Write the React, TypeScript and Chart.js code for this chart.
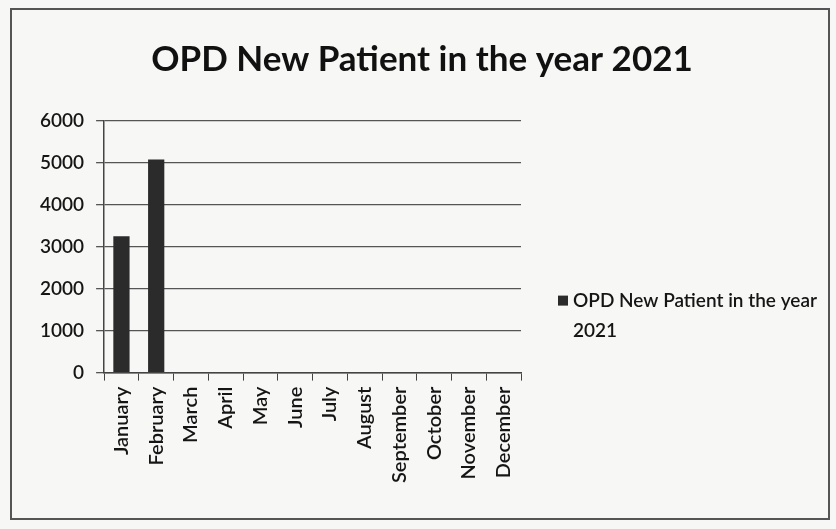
import React, { useEffect, useRef } from "react";
import { Chart, registerables } from "chart.js";

Chart.register(...registerables);

const months = [
  "January", "February", "March", "April", "May", "June",
  "July", "August", "September", "October", "November", "December",
];
const chartTitle = "OPD New Patient in the year 2021";
const seriesName = "OPD New Patient in the year 2021";
const legendLines = ["OPD New Patient in the year", "2021"];
const newPatients: (number | null)[] = [3250, 5080, null, null, null, null, null, null, null, null, null, null];
const yTicks = [0, 1000, 2000, 3000, 4000, 5000, 6000];

const FONT = "Lato, 'Open Sans', sans-serif";

const decorations = {
  id: "decorations",
  afterDraw(chart: any) {
    const { ctx, chartArea, width } = chart;
    const ds = chart.data.datasets[0];
    ctx.save();
    // title
    ctx.fillStyle = "#111";
    ctx.font = `bold 35px ${FONT}`;
    ctx.textAlign = "center";
    ctx.textBaseline = "middle";
    ctx.fillText(chartTitle, width / 2 + 4, 60);
    // legend
    const x = chartArea.right + 37;
    const y = chartArea.bottom - 72;
    ctx.fillStyle = ds.backgroundColor;
    ctx.fillRect(x, y - 5, 10, 10);
    ctx.fillStyle = "#151515";
    ctx.font = `600 19px ${FONT}`;
    ctx.textAlign = "left";
    legendLines.forEach((line, i) => {
      ctx.fillText(line, x + 15, y + i * 30);
    });
    ctx.restore();
  },
};

export default function App() {
  const ref = useRef<HTMLCanvasElement>(null);
  useEffect(() => {
    if (!ref.current) return;
    const chart = new Chart(ref.current, {
      type: "bar",
      data: {
        labels: months,
        datasets: [
          {
            label: seriesName,
            data: newPatients,
            backgroundColor: "#2b2b2b",
            borderWidth: 0,
            barPercentage: 0.85,
            categoryPercentage: 0.55,
          },
        ],
      },
      options: {
        animation: false,
        responsive: false,
        layout: { padding: { left: 28, right: 315, top: 121, bottom: 40 } },
        plugins: {
          legend: { display: false },
          tooltip: { enabled: false },
          title: { display: false },
        },
        scales: {
          x: {
            grid: {
              display: true,
              offset: true,
              drawOnChartArea: false,
              drawTicks: true,
              tickLength: 8,
              color: "#444",
            },
            border: { display: true, color: "#444", width: 1.5 },
            ticks: {
              color: "#151515",
              font: { family: FONT, size: 20, weight: "600" },
              minRotation: 90,
              maxRotation: 90,
              padding: 6,
            },
          },
          y: {
            min: 0,
            max: 6000,
            afterBuildTicks(axis: any) {
              axis.ticks = yTicks.map((v) => ({ value: v }));
            },
            grid: { color: "#555", lineWidth: 1.3, tickLength: 8 },
            border: { display: true, color: "#444", width: 1.5 },
            ticks: {
              color: "#151515",
              font: { family: FONT, size: 19, weight: "600" },
              padding: 12,
              callback: (v: any) => String(v),
            },
          },
        },
      },
      plugins: [decorations],
    });
    return () => chart.destroy();
  }, []);
  return (
    <div style={{ position: "fixed", inset: 0, background: "#f7f7f5" }}>
      <div
        style={{
          position: "absolute",
          left: 10,
          top: 8,
          width: 820,
          height: 512,
          border: "2px solid #555",
          boxSizing: "border-box",
        }}
      />
      <canvas ref={ref} width={836} height={529} style={{ position: "absolute", left: 0, top: 0 }} />
    </div>
  );
}
